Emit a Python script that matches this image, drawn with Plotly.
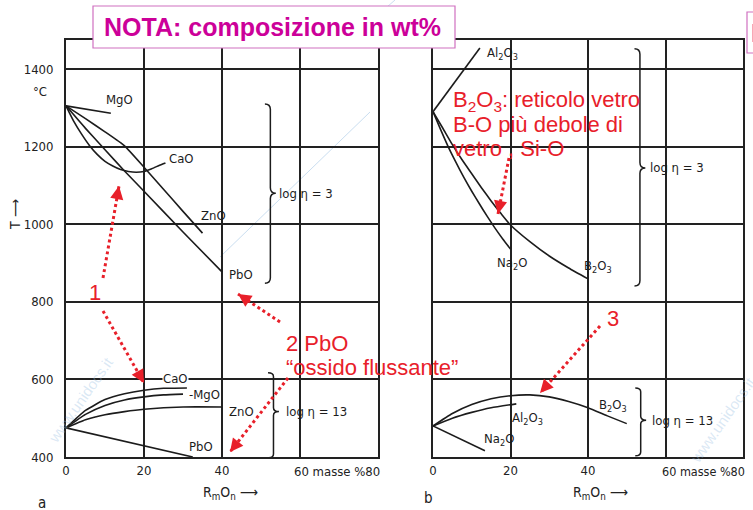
import plotly.graph_objects as go

W, H = 753, 510

# ---------------- data ----------------
# Panel a, log eta = 3
a3_mgo_x = [0, 11.5]
a3_mgo_t = [1305, 1286]
a3_cao_x = [0, 2, 4, 6, 8, 10, 12, 14, 16, 18, 20, 22, 24, 25.5]
a3_cao_t = [1305, 1265, 1232, 1203, 1180, 1162, 1150, 1141, 1136, 1134, 1136, 1143, 1152, 1158]
a3_zno_x = [0, 5, 10, 15, 20, 25, 30, 35]
a3_zno_t = [1305, 1272, 1238, 1202, 1147, 1090, 1033, 977]
a3_pbo_x = [0, 5, 10, 15, 20, 30, 40]
a3_pbo_t = [1305, 1247, 1192, 1137, 1085, 980, 877]

# Panel a, log eta = 13
a13_cao_x = [0, 5, 10, 15, 20, 25, 31]
a13_cao_t = [475, 520, 548, 563, 572, 577, 578]
a13_mgo_x = [0, 5, 10, 15, 20, 25, 30]
a13_mgo_t = [475, 510, 533, 547, 555, 560, 562]
a13_zno_x = [0, 5, 10, 15, 20, 30, 40]
a13_zno_t = [475, 496, 509, 517, 523, 529, 529]
a13_pbo_x = [0, 32.5]
a13_pbo_t = [475, 400]

# Panel b, log eta = 3
b3_al_x = [0, 12.1]
b3_al_t = [1290, 1454]
b3_na_x = [0, 2, 4, 6, 8, 10, 12, 14, 16, 18, 20]
b3_na_t = [1290, 1243, 1198, 1158, 1120, 1085, 1052, 1020, 990, 962, 936]
b3_b_x = [0, 2.5, 5, 7.5, 10, 12.5, 15, 17.5, 20, 25, 30, 35, 40]
b3_b_t = [1290, 1248, 1205, 1166, 1130, 1094, 1060, 1028, 998, 955, 918, 887, 859]

# Panel b, log eta = 13
b13_b_x = [0, 5, 10, 15, 20, 25, 30, 35, 40, 45, 50]
b13_b_t = [480, 512, 535, 550, 558, 560, 555, 543, 527, 506, 486]
b13_al_x = [0, 5, 10, 15, 21.5]
b13_al_t = [480, 500, 515, 527, 537]
b13_na_x = [0, 13.4]
b13_na_t = [480, 416]

y_ticks = [400, 600, 800, 1000, 1200, 1400]
x_ticks = [0, 20, 40, 60, 80]
x_ticktext = ["0", "20", "40", "", ""]

# ---------------- figure ----------------
LINE = dict(color="#1c1c1c", width=1.6, shape="spline", smoothing=0.5)
fig = go.Figure()

def add(xs, ts, xa, ya):
    fig.add_trace(go.Scatter(x=xs, y=ts, mode="lines", line=LINE,
                             xaxis=xa, yaxis=ya, hoverinfo="skip", showlegend=False))

for xs, ts in [(a3_mgo_x, a3_mgo_t), (a3_cao_x, a3_cao_t), (a3_zno_x, a3_zno_t),
               (a3_pbo_x, a3_pbo_t), (a13_cao_x, a13_cao_t), (a13_mgo_x, a13_mgo_t),
               (a13_zno_x, a13_zno_t), (a13_pbo_x, a13_pbo_t)]:
    add(xs, ts, "x", "y")
for xs, ts in [(b3_al_x, b3_al_t), (b3_na_x, b3_na_t), (b3_b_x, b3_b_t),
               (b13_b_x, b13_b_t), (b13_al_x, b13_al_t), (b13_na_x, b13_na_t)]:
    add(xs, ts, "x2", "y2")

TICKFONT = dict(family="DejaVu Sans Condensed, Liberation Sans Narrow, DejaVu Sans", size=13, color="#222")
y_top = 400 + (457 - 40) / 77.6 * 200

axcommon = dict(range=[0, 80], tickvals=x_ticks, ticktext=x_ticktext, showgrid=True,
                gridcolor="#222", gridwidth=1.5, showline=True, linecolor="#222",
                linewidth=1.8, mirror=True, ticks="", zeroline=False, tickfont=TICKFONT,
                fixedrange=True, automargin=False)
aycommon = dict(range=[400, y_top], tickvals=y_ticks, showgrid=True, gridcolor="#222",
                gridwidth=1.5, showline=True, linecolor="#222", linewidth=1.8, mirror=True,
                ticks="", zeroline=False, tickfont=TICKFONT, domain=[1 - 457 / H, 1 - 40 / H],
                fixedrange=True, automargin=False)

fig.update_layout(
    template="none",
    width=W, height=H, margin=dict(l=0, r=0, t=0, b=0, pad=0),
    paper_bgcolor="white", plot_bgcolor="white",
    xaxis=dict(domain=[66 / W, 378 / W], anchor="y", **axcommon),
    xaxis2=dict(domain=[433 / W, 743 / W], anchor="y2", **axcommon),
    yaxis=dict(anchor="x", ticklabelstandoff=8, **aycommon),
    yaxis2=dict(anchor="x2", showticklabels=False, **aycommon),
)

ann = []
CHEM = dict(family="DejaVu Sans Condensed, Liberation Sans Narrow, DejaVu Sans", size=13, color="#1c1c1c")

def lab(text, x, y, xr, yr, bg=None):
    d = dict(text=text, x=x, y=y, xref=xr, yref=yr, xanchor="left", yanchor="middle",
             showarrow=False, font=CHEM)
    if bg:
        d["bgcolor"] = bg
        d["borderpad"] = 0
    ann.append(d)

# panel a labels
lab("MgO", 9.7, 1322, "x", "y")
lab("CaO", 25.8, 1170, "x", "y")
lab("ZnO", 34.2, 1022, "x", "y")
lab("PbO", 41.3, 870, "x", "y")
lab("CaO", 24.6, 602, "x", "y", bg="white")
lab("-MgO", 31.0, 560, "x", "y")
lab("ZnO", 41.3, 516, "x", "y")
lab("PbO", 31.0, 428, "x", "y")
lab("log η = 3", 54.0, 1080, "x", "y")
lab("log η = 13", 56.0, 516, "x", "y")
# panel b labels
lab("Al<sub>2</sub>O<sub>3</sub>", 13.4, 1440, "x2", "y2")
lab("Na<sub>2</sub>O", 16.0, 900, "x2", "y2")
lab("B<sub>2</sub>O<sub>3</sub>", 38.5, 890, "x2", "y2")
lab("B<sub>2</sub>O<sub>3</sub>", 42.3, 532, "x2", "y2")
lab("Al<sub>2</sub>O<sub>3</sub>", 19.9, 500, "x2", "y2")
lab("Na<sub>2</sub>O", 12.6, 445, "x2", "y2")
lab("log η = 3", 55.5, 1145, "x2", "y2")
lab("log η = 13", 56.0, 495, "x2", "y2")

def P(px, py):
    return px / W, 1 - py / H

def ptext(text, px, py, font, xanchor="left", yanchor="middle", angle=0, **kw):
    x, y = P(px, py)
    ann.append(dict(text=text, x=x, y=y, xref="paper", yref="paper", xanchor=xanchor,
                    yanchor=yanchor, showarrow=False, font=font, textangle=angle, **kw))

# axis decorations
ptext("60 masse %80", 292, 471, TICKFONT)
ptext("60 masse %80", 660, 471, dict(TICKFONT, size=12.5))
ptext("°C", 40, 91, TICKFONT, xanchor="center")
ptext("T ⟶", 15, 215, dict(TICKFONT, size=14), xanchor="center", angle=-90)
ptext("R<sub>m</sub>O<sub>n</sub> ⟶", 230, 493, dict(TICKFONT, size=14), xanchor="center")
ptext("R<sub>m</sub>O<sub>n</sub> ⟶", 600, 493, dict(TICKFONT, size=14), xanchor="center")
ptext("a", 42, 503, dict(TICKFONT, size=15), xanchor="center")
ptext("b", 428, 498, dict(TICKFONT, size=15), xanchor="center")

# watermark
WM = dict(family="Liberation Sans, Arial", size=15, color="rgba(150,190,225,0.35)")
ptext("www.unidocs.it", 80, 400, WM, xanchor="center", angle=-55)
ptext("www.unidocs.it", 722, 420, WM, xanchor="center", angle=-55)

# red notes
RED = "#e8202a"
RF = dict(family="Liberation Sans, Arial", size=22, color=RED)
ptext("1", 95, 292, RF, xanchor="center")
ptext("2 PbO", 284, 343, RF)
ptext("“ossido flussante”", 284, 367, RF)
ptext("3", 613, 318, RF, xanchor="center")
ptext("B<sub>2</sub>O<sub>3</sub>: reticolo vetro", 451, 101, RF)
ptext("B-O più debole di", 451, 124, RF)
ptext("vetro , Si-O", 451, 148, RF)

# magenta note box
MAG = "#cc0099"
ptext("<b>NOTA: composizione in wt%</b>", 272, 27,
      dict(family="Liberation Sans, Arial", size=25, color=MAG), xanchor="center")
ptext("<b>NOTA</b>", 749, 33, dict(family="Liberation Sans, Arial", size=25, color=MAG))

shapes = []
# boxes
x0, y1 = P(93, 6); x1, y0 = P(455, 48)
shapes.append(dict(type="rect", xref="paper", yref="paper", x0=x0, x1=x1, y0=y0, y1=y1,
                   line=dict(color="#d070c0", width=1.2), fillcolor="white", layer="above"))
x0, y1 = P(747, 12); x1, y0 = P(800, 53)
shapes.append(dict(type="rect", xref="paper", yref="paper", x0=x0, x1=x1, y0=y0, y1=y1,
                   line=dict(color="#d070c0", width=1.2), fillcolor="rgba(0,0,0,0)", layer="above"))

# watermark lines
for (ax0, ay0, ax1, ay1) in [(220, 257, 370, 112), (355, 35, 395, 0)]:
    x0, y0 = P(ax0, ay0); x1, y1 = P(ax1, ay1)
    shapes.append(dict(type="line", xref="paper", yref="paper", x0=x0, y0=y0, x1=x1, y1=y1,
                       line=dict(color="rgba(150,190,225,0.5)", width=1), layer="below"))

# braces (data coordinates of each panel)
def brace(xr, yr, xb, ytop, ybot, ymid, w=1.4, h=14):
    p = (f"M {xb - w},{ytop} Q {xb},{ytop} {xb},{ytop - h} L {xb},{ymid + h} "
         f"Q {xb},{ymid} {xb + w},{ymid} Q {xb},{ymid} {xb},{ymid - h} "
         f"L {xb},{ybot + h} Q {xb},{ybot} {xb - w},{ybot}")
    shapes.append(dict(type="path", xref=xr, yref=yr, path=p,
                       line=dict(color="#1c1c1c", width=1.5)))

brace("x", "y", 52.4, 1310, 848, 1080)
brace("x", "y", 53.2, 617, 398, 517, h=10)
brace("x2", "y2", 53.4, 1452, 841, 1145)
brace("x2", "y2", 53.6, 578, 403, 495, h=10)

# dotted red arrows (pixel positions)
arrows = [(103, 278, 119, 186), (103, 311, 144, 383), (280, 322, 238, 294),
          (288, 378, 230, 452), (600, 326, 540, 393), (509, 158, 498, 214)]
for (sx, sy, ex, ey) in arrows:
    x0, y0 = P(sx, sy); x1, y1 = P(ex, ey)
    shapes.append(dict(type="line", xref="paper", yref="paper", x0=x0, y0=y0, x1=x1, y1=y1,
                       line=dict(color=RED, width=3, dash="dot")))
    dx, dy = sx - ex, sy - ey
    n = (dx * dx + dy * dy) ** 0.5
    ann.append(dict(x=x1, y=y1, xref="paper", yref="paper", ax=dx / n * 6, ay=dy / n * 6,
                    showarrow=True, arrowhead=2, arrowsize=1.1, arrowwidth=2.4,
                    arrowcolor=RED, text=""))

fig.update_layout(annotations=ann, shapes=shapes)
fig.write_html("out.html", config={"displayModeBar": False},
               post_script="document.body.style.margin='0';document.body.style.overflow='hidden';")
